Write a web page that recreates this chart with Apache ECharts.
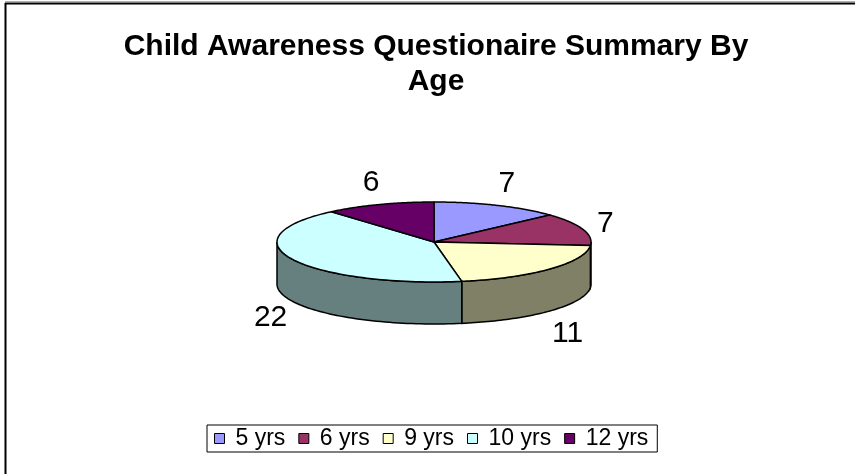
<!DOCTYPE html>
<html>
<head>
<meta charset="utf-8">
<script src="https://cdn.jsdelivr.net/npm/echarts@6/dist/echarts.min.js"></script>
<style>html,body{margin:0;padding:0;background:#fff}#c{width:855px;height:474px}</style>
</head>
<body>
<div id="c"></div>
<script>
// ---- data ----
const categories = ['5 yrs', '6 yrs', '9 yrs', '10 yrs', '12 yrs'];
const values = [7, 7, 11, 22, 6];
const topColors = ['#9999FF', '#993366', '#FFFFCC', '#CCFFFF', '#660066'];
const sideColors = ['#4D4D80', '#4D1A33', '#808066', '#668080', '#330033'];
const titleText = 'Child Awareness Questionaire Summary By\nAge';

// ---- geometry (style) ----
const CX = 434, CY = 242, RX = 157, RY = 40, DEPTH = 42;
const FONT = "'Liberation Sans', Arial, sans-serif";

const total = values.reduce((a, b) => a + b, 0);
const starts = [];
let acc = 0;
values.forEach(v => { starts.push(acc); acc += v; });

function pt(theta, dy) {
  return [CX + RX * Math.sin(theta), CY - RY * Math.cos(theta) + (dy || 0)];
}

function makeRender(idx) {
  return function (params, api) {
    const v = api.value(0);
    const a0 = starts[idx] / total * Math.PI * 2;
    const a1 = a0 + v / total * Math.PI * 2;
    const children = [];
    // side face (front half: PI/2 .. 3PI/2)
    const s0 = Math.max(a0, Math.PI / 2), s1 = Math.min(a1, Math.PI * 1.5);
    if (s1 > s0) {
      const pts = [];
      const n = 60;
      for (let i = 0; i <= n; i++) pts.push(pt(s0 + (s1 - s0) * i / n, 0));
      for (let i = n; i >= 0; i--) pts.push(pt(s0 + (s1 - s0) * i / n, DEPTH));
      children.push({
        type: 'polygon', shape: { points: pts },
        style: { fill: sideColors[idx], stroke: '#000', lineWidth: 1.5 }
      });
    }
    // top face
    const tp = [[CX, CY]];
    const m = 80;
    for (let i = 0; i <= m; i++) tp.push(pt(a0 + (a1 - a0) * i / m, 0));
    children.push({
      type: 'polygon', shape: { points: tp },
      style: { fill: topColors[idx], stroke: '#000', lineWidth: 1.5, lineJoin: 'round' }
    });
    // label
    const am = (a0 + a1) / 2;
    const lx = CX + (RX + 24) * Math.sin(am);
    const ly = CY + 4 - (RY + 28) * Math.cos(am) + (Math.cos(am) < 0 ? DEPTH : 0);
    children.push({
      type: 'text', z2: 10,
      style: { text: String(v), x: lx, y: ly, align: 'center', verticalAlign: 'middle',
        font: '30px ' + FONT, fill: '#000' }
    });
    return { type: 'group', children: children };
  };
}

const series = categories.map((name, i) => ({
  type: 'custom',
  name: name,
  coordinateSystem: 'none',
  renderItem: makeRender(i),
  data: [[values[i]]],
  itemStyle: { color: topColors[i], borderColor: '#000', borderWidth: 1 },
  animation: false,
  silent: true
}));

const chart = echarts.init(document.getElementById('c'), null, { renderer: 'canvas' });
chart.setOption({
  backgroundColor: '#fff',
  animation: false,
  title: {
    text: titleText,
    left: 436,
    top: 29,
    textAlign: 'center',
    padding: 0,
    textStyle: { fontFamily: FONT, fontWeight: 'bold', fontSize: 30, lineHeight: 35, color: '#000' }
  },
  legend: {
    data: categories,
    left: 207,
    top: 425,
    orient: 'horizontal',
    icon: 'rect',
    itemWidth: 10,
    itemHeight: 10,
    itemGap: 13,
    padding: [2, 9, 2, 7],
    borderColor: '#000',
    borderWidth: 1,
    itemStyle: { borderColor: '#000', borderWidth: 1 },
    textStyle: { fontFamily: FONT, fontSize: 23, color: '#000', padding: [0, 0, 0, 6] },
    selectedMode: false
  },
  graphic: [
    { type: 'line', shape: { x1: 5, y1: 1.5, x2: 855, y2: 1.5 }, style: { stroke: '#b0b0b0', lineWidth: 1 } },
    { type: 'line', shape: { x1: 5, y1: 3.5, x2: 855, y2: 3.5 }, style: { stroke: '#000', lineWidth: 2 } },
    { type: 'line', shape: { x1: 5.5, y1: 3, x2: 5.5, y2: 474 }, style: { stroke: '#000', lineWidth: 2 } }
  ],
  series: series
});
</script>
</body>
</html>
